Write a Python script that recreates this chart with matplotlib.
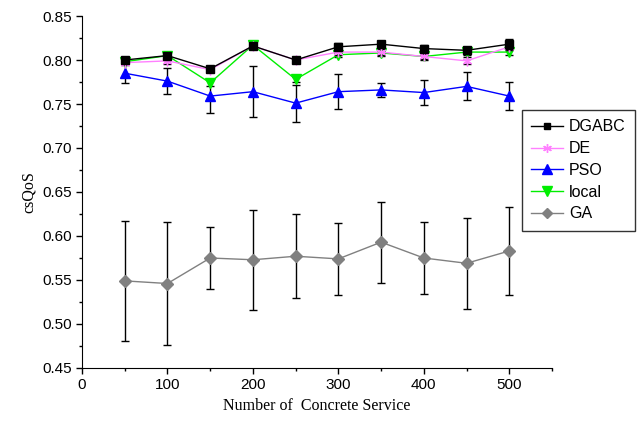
import numpy as np
import matplotlib.pyplot as plt
from matplotlib.lines import Line2D

x = [50, 100, 150, 200, 250, 300, 350, 400, 450, 500]

dgabc = [0.800, 0.805, 0.790, 0.816, 0.800, 0.815, 0.818, 0.813, 0.811, 0.818]
dgabc_err = [0.003, 0.003, 0.003, 0.002, 0.002, 0.004, 0.003, 0.004, 0.004, 0.006]
de = [0.797, 0.799, 0.789, 0.816, 0.800, 0.809, 0.809, 0.804, 0.799, 0.815]
de_err = [0.003, 0.003, 0.003, 0.002, 0.002, 0.003, 0.003, 0.003, 0.004, 0.004]
pso = [0.785, 0.776, 0.759, 0.764, 0.751, 0.764, 0.766, 0.763, 0.770, 0.759]
pso_err = [0.011, 0.015, 0.019, 0.029, 0.021, 0.020, 0.008, 0.014, 0.016, 0.016]
local = [0.798, 0.805, 0.774, 0.817, 0.778, 0.806, 0.808, 0.804, 0.809, 0.809]
local_err = [0.003, 0.003, 0.004, 0.002, 0.003, 0.003, 0.004, 0.004, 0.003, 0.003]
ga = [0.549, 0.546, 0.575, 0.573, 0.577, 0.574, 0.593, 0.575, 0.569, 0.583]
ga_err = [0.068, 0.070, 0.035, 0.057, 0.048, 0.041, 0.046, 0.041, 0.052, 0.050]

plt.rcParams['font.family'] = ['Liberation Sans', 'DejaVu Sans']

fig = plt.figure(figsize=(6.37, 4.29), dpi=100)
ax = fig.add_axes([0.1287, 0.1422, 0.7379, 0.8205])

# name, values, errors, colour, marker, size
series = [
    ('GA', ga, ga_err, '#808080', 'D', 6),
    ('PSO', pso, pso_err, 'blue', '^', 7.5),
    ('local', local, local_err, '#00ee00', 'v', 7.5),
    ('DE', de, de_err, '#ff80ff', (6, 2, 0), 7),
    ('DGABC', dgabc, dgabc_err, 'black', 's', 5.5),
]
handles = {}
for z, (name, vals, err, col, mk, ms) in enumerate(series):
    ax.errorbar(x, vals, yerr=err, color=col, marker=mk, ms=ms, lw=1,
                ecolor='black', elinewidth=1, capsize=3, capthick=1, zorder=2 + z)
    handles[name] = Line2D([], [], color=col, marker=mk, ms=ms * 0.9, lw=1)

ax.set_xlim(0, 550)
ax.set_ylim(0.45, 0.85)
ax.set_xticks([0, 100, 200, 300, 400, 500])
ax.set_xticks(np.arange(50, 551, 100), minor=True)
ax.set_yticks(np.arange(0.45, 0.851, 0.05))
ax.set_yticks(np.arange(0.475, 0.85, 0.05), minor=True)
ax.yaxis.set_major_formatter(plt.FormatStrFormatter('%.2f'))
ax.tick_params(direction='out', labelsize=11, length=4, width=1)
ax.tick_params(which='minor', direction='out', length=2.5, width=1)
ax.spines['top'].set_visible(False)
ax.spines['right'].set_visible(False)

ax.set_xlabel('Number of  Concrete Service', family='Liberation Serif', fontsize=11.5)
ax.set_ylabel('csQoS', family='Liberation Serif', fontsize=11.5)

order = ['DGABC', 'DE', 'PSO', 'local', 'GA']
leg = fig.legend([handles[o] for o in order], order, loc='upper left',
                 bbox_to_anchor=(0.819, 0.744), borderaxespad=0, fontsize=11.5,
                 frameon=True, fancybox=False, edgecolor='black',
                 handlelength=2.0, borderpad=0.6, labelspacing=0.42,
                 handletextpad=0.35)
leg.get_frame().set_linewidth(1)

fig.savefig('out.png', dpi=100)
